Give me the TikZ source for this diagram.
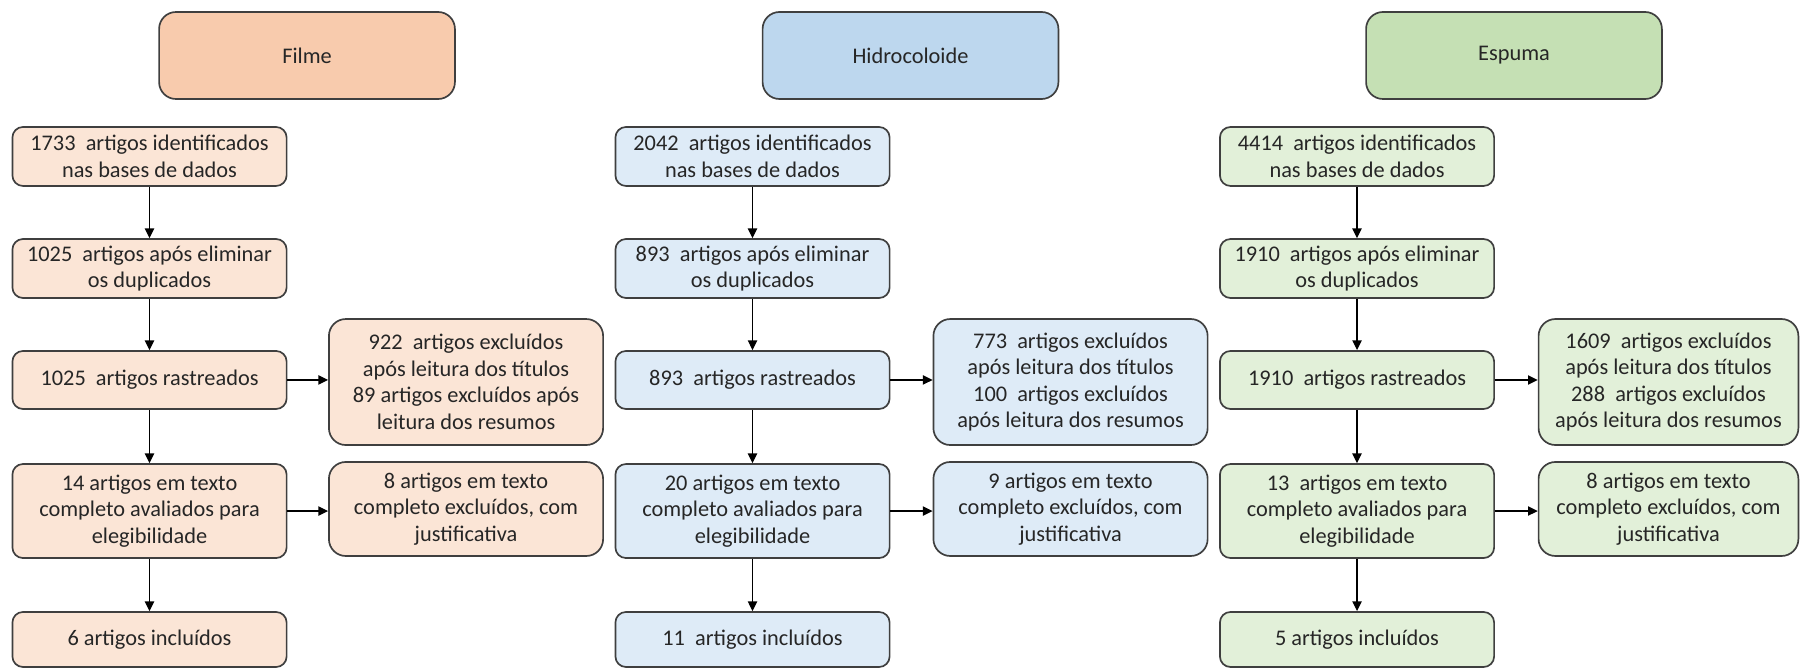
\documentclass[tikz,border=0pt]{standalone}
\usepackage{fontspec}
\setmainfont{Carlito}
\usetikzlibrary{arrows.meta, positioning}
\definecolor{inkline}{HTML}{3F3F3F}
\definecolor{inktext}{HTML}{262626}
\definecolor{filmehead}{HTML}{F8CBAD}
\definecolor{filmebox}{HTML}{FBE5D6}
\definecolor{hidrohead}{HTML}{BDD7EE}
\definecolor{hidrobox}{HTML}{DEEBF7}
\definecolor{espumahead}{HTML}{C5E0B4}
\definecolor{espumabox}{HTML}{E2F0D9}
\tikzset{
  box/.style={draw=inkline, line width=0.8pt, align=center, inner sep=0pt, text=inktext},
  headbox/.style={box, rounded corners=8pt, fill=#1, minimum width=4.93cm, minimum height=1.45cm},
  mainbox/.style={box, rounded corners=5pt, fill=#1, minimum width=4.57cm},
  sidebox/.style={box, rounded corners=8pt, fill=#1, minimum width=4.57cm},
  flow/.style={-{Triangle[length=4.6pt, width=4.4pt]}, line width=0.6pt, black}
}
\newcommand{\colheads}[4]{%
  \node[headbox=#4] (#1) at (#2,-0.925) {#3};}

\begin{document}
\begin{tikzpicture}[font=\fontsize{10.6}{12.6}\selectfont]
  \useasboundingbox (0,0) rectangle (30,-11.133);
  \colheads{fh}{5.117}{Filme}{filmehead}
  \node[mainbox=filmebox, minimum height=0.983cm] (f1) at (2.492,-2.608) {1733~ artigos identificados\\nas bases de dados};
  \node[mainbox=filmebox, minimum height=0.983cm] (f2) at (2.492,-4.475) {1025~ artigos após eliminar\\os duplicados};
  \node[mainbox=filmebox, minimum height=0.967cm] (f3) at (2.492,-6.333) {1025~ artigos rastreados};
  \node[mainbox=filmebox, minimum height=1.567cm] (f4) at (2.492,-8.517) {14 artigos em texto\\completo avaliados para\\elegibilidade};
  \node[mainbox=filmebox, minimum height=0.917cm] (f5) at (2.492,-10.658) {6 artigos incluídos};
  \node[sidebox=filmebox, minimum height=2.1cm] (fs1) at (7.767,-6.367) {922~ artigos excluídos\\após leitura dos títulos\\89 artigos excluídos após\\leitura dos resumos};
  \node[sidebox=filmebox, minimum height=1.567cm] (fs2) at (7.767,-8.483) {8 artigos em texto\\completo excluídos, com\\justificativa};
  \draw[flow] (f1) -- (f2);
  \draw[flow] (f2) -- (f3);
  \draw[flow] (f3) -- (f4);
  \draw[flow] (f4) -- (f5);
  \draw[flow] (f3.east) -- (f3.east -| fs1.west);
  \draw[flow] (f4.east) -- (f4.east -| fs2.west);

  \colheads{hh}{15.175}{Hidrocoloide}{hidrohead}
  \node[mainbox=hidrobox, minimum height=0.983cm] (h1) at (12.542,-2.608) {2042~ artigos identificados\\nas bases de dados};
  \node[mainbox=hidrobox, minimum height=0.983cm] (h2) at (12.542,-4.475) {893~ artigos após eliminar\\os duplicados};
  \node[mainbox=hidrobox, minimum height=0.967cm] (h3) at (12.542,-6.333) {893~ artigos rastreados};
  \node[mainbox=hidrobox, minimum height=1.567cm] (h4) at (12.542,-8.517) {20 artigos em texto\\completo avaliados para\\elegibilidade};
  \node[mainbox=hidrobox, minimum height=0.917cm] (h5) at (12.542,-10.658) {11~ artigos incluídos};
  \node[sidebox=hidrobox, minimum height=2.1cm] (hs1) at (17.842,-6.367) {773~ artigos excluídos\\após leitura dos títulos\\100~ artigos excluídos\\após leitura dos resumos};
  \node[sidebox=hidrobox, minimum height=1.567cm] (hs2) at (17.842,-8.483) {9 artigos em texto\\completo excluídos, com\\justificativa};
  \draw[flow] (h1) -- (h2);
  \draw[flow] (h2) -- (h3);
  \draw[flow] (h3) -- (h4);
  \draw[flow] (h4) -- (h5);
  \draw[flow] (h3.east) -- (h3.east -| hs1.west);
  \draw[flow] (h4.east) -- (h4.east -| hs2.west);

  \colheads{eh}{25.233}{Espuma}{espumahead}
  \node[mainbox=espumabox, minimum height=0.983cm] (e1) at (22.617,-2.608) {4414~ artigos identificados\\nas bases de dados};
  \node[mainbox=espumabox, minimum height=0.983cm] (e2) at (22.617,-4.475) {1910~ artigos após eliminar\\os duplicados};
  \node[mainbox=espumabox, minimum height=0.967cm] (e3) at (22.617,-6.333) {1910~ artigos rastreados};
  \node[mainbox=espumabox, minimum height=1.567cm] (e4) at (22.617,-8.517) {13~ artigos em texto\\completo avaliados para\\elegibilidade};
  \node[mainbox=espumabox, minimum height=0.917cm] (e5) at (22.617,-10.658) {5 artigos incluídos};
  \node[sidebox=espumabox, minimum height=2.1cm, minimum width=4.33cm] (es1) at (27.808,-6.367) {1609~ artigos excluídos\\após leitura dos títulos\\288~ artigos excluídos\\após leitura dos resumos};
  \node[sidebox=espumabox, minimum height=1.567cm, minimum width=4.33cm] (es2) at (27.808,-8.483) {8 artigos em texto\\completo excluídos, com\\justificativa};
  \draw[flow] (e1) -- (e2);
  \draw[flow] (e2) -- (e3);
  \draw[flow] (e3) -- (e4);
  \draw[flow] (e4) -- (e5);
  \draw[flow] (e3.east) -- (e3.east -| es1.west);
  \draw[flow] (e4.east) -- (e4.east -| es2.west);
\end{tikzpicture}
\end{document}
